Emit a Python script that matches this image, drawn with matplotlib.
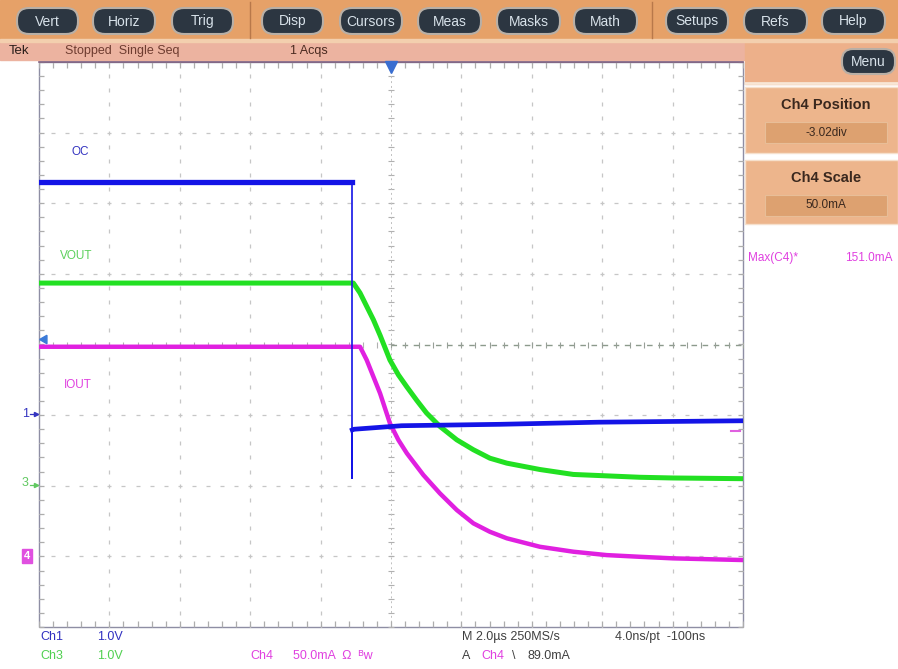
import matplotlib
matplotlib.use('Agg')
import matplotlib.pyplot as plt
from matplotlib.patches import FancyBboxPatch, Rectangle
import numpy as np

# ---------------- data (read from the screen) ----------------
# time in microseconds (2 us/div, trigger at centre)
oc_t = [-10.0, -1.10, -1.10, -1.10, -1.05, 0.30, 3.10, 5.90, 10.0]
oc_v = [3.30, 3.30, -0.89, -0.21, -0.20, -0.15, -0.13, -0.10, -0.08]   # V

vout_t = [-10.0, -1.07, -0.88, -0.69, -0.50, -0.31, -0.03, 0.21, 0.45, 0.73,
          1.01, 1.39, 1.87, 2.34, 2.81, 3.29, 4.23, 5.18, 6.13, 7.07, 8.01, 10.0]
vout_v = [2.87, 2.87, 2.73, 2.54, 2.35, 2.13, 1.78, 1.57, 1.40, 1.21,
          1.03, 0.84, 0.65, 0.51, 0.39, 0.32, 0.23, 0.16, 0.14, 0.12, 0.11, 0.10]  # V

iout_t = [-10.0, -0.88, -0.69, -0.50, -0.31, -0.03, 0.21, 0.45, 0.92, 1.39,
          1.87, 2.34, 2.81, 3.29, 4.23, 5.18, 6.13, 7.07, 8.01, 10.0]
iout_i = [149.4, 149.4, 140.0, 128.2, 116.4, 95.2, 83.4, 74.0, 58.6, 45.6,
          33.8, 24.4, 18.4, 13.8, 7.8, 4.3, 1.9, 0.7, -0.4, -1.6]          # mA

ch1_scale, ch1_pos = 1.0, -1.0      # V/div, div
ch3_scale, ch3_pos = 1.0, -2.0
ch4_scale, ch4_pos = 50.0, -3.02    # mA/div, div

menu_buttons = ["Vert", "Horiz", "Trig", "Disp", "Cursors", "Meas", "Masks",
                "Math", "Setups", "Refs", "Help"]
button_x = [(17, 78), (93, 155), (172, 233), (262, 323), (340, 402), (418, 481),
            (497, 560), (574, 637), (666, 728), (744, 807), (822, 885)]

# ---------------- figure ----------------
W, H = 898, 669
FONT = ['Liberation Sans', 'DejaVu Sans']
plt.rcParams['font.family'] = FONT

fig = plt.figure(figsize=(W / 100, H / 100), dpi=100)
fig.patch.set_facecolor('white')
ui = fig.add_axes([0, 0, 1, 1])
ui.set_xlim(0, W)
ui.set_ylim(H, 0)
ui.axis('off')

GL, GR, GT, GB = 39, 743, 62, 627
ax = fig.add_axes([GL / W, 1 - GB / H, (GR - GL) / W, (GB - GT) / H])
ax.set_facecolor('none')
ax.set_xlim(-10, 10)
ax.set_ylim(-4, 4)
ax.axis('off')

# ---- toolbar ----
ui.add_patch(Rectangle((0, 0), W, 40, color='#E6A168', zorder=0))
ui.add_patch(Rectangle((0, 39), W, 2.5, color='#F3CFAE', zorder=1))
ui.add_patch(Rectangle((0, 42), 745, 18, color='#ECB3A0', zorder=0))
ui.add_patch(Rectangle((745, 41), W - 745, 43, color='#EDB08A', zorder=0))
for sx in (250, 652):
    ui.plot([sx, sx], [2, 38], color='#B8784A', lw=1, zorder=1)
for lab, (x0, x1) in zip(menu_buttons, button_x):
    ui.add_patch(FancyBboxPatch((x0, 8), x1 - x0, 26,
                                boxstyle="round,pad=0,rounding_size=12",
                                fc='#2C3641', ec='#B8AFA6', lw=1.5, zorder=2))
    ui.text((x0 + x1) / 2, 21.5, lab, color='#D8E2EA', fontsize=10,
            ha='center', va='center', zorder=3)
# Menu button
ui.add_patch(FancyBboxPatch((842, 49), 53, 25,
                            boxstyle="round,pad=0,rounding_size=11",
                            fc='#2C3641', ec='#B8AFA6', lw=1.5, zorder=2))
ui.text(868, 62, "Menu", color='#D8E2EA', fontsize=10, ha='center',
        va='center', zorder=3)

# status line
ui.text(9, 51, "Tek", color='#2A1E1A', fontsize=9.5, ha='left', va='center')
ui.text(65, 51, "Stopped  Single Seq", color='#6E3C30', fontsize=9,
        ha='left', va='center')
ui.text(290, 51, "1 Acqs", color='#4A2A20', fontsize=9, ha='left', va='center')

# right panel boxes
ui.plot([745, W], [83, 83], color='#F8E6D6', lw=2, zorder=1)
for (y0, y1), title, val in (((87, 153), "Ch4 Position", "-3.02div"),
                             ((160, 224), "Ch4 Scale", "50.0mA")):
    ui.add_patch(Rectangle((745, y0), W - 745, y1 - y0, fc='#EDB58C',
                           ec='#F6E0CC', lw=1, zorder=1))
    ui.add_patch(Rectangle((765, y0 + 35), 122, 21, fc='#DDA170',
                           ec='#E8BE98', lw=0.8, zorder=2))
    ui.text(826, y0 + 18, title, color='#3A281E', fontsize=10.5,
            fontweight='bold', ha='center', va='center', zorder=3)
    ui.text(826, y0 + 45.5, val, color='#3A281E', fontsize=8.5,
            ha='center', va='center', zorder=3)

ui.text(748, 258, "Max(C4)*", color='#E040E0', fontsize=8.5, ha='left', va='center')
ui.text(845, 258, "151.0mA", color='#E040E0', fontsize=8.5, ha='left', va='center',
        clip_on=True)

# ---- graticule ----
gcol = '#C6C6C6'
minor_x = np.arange(-10, 10.001, 0.4)
minor_y = np.arange(-4, 4.001, 0.2)
for gx in np.arange(-8, 9, 2):
    if gx == 0:
        continue
    ax.plot(np.full_like(minor_y, gx), minor_y, ls='none', marker='|',
            ms=2.5, mew=0.9, color=gcol)
for gy in np.arange(-3, 4, 1):
    if gy == 0:
        continue
    ax.plot(minor_x, np.full_like(minor_x, gy), ls='none', marker='_',
            ms=2.5, mew=0.9, color=gcol)
# centre lines with ticks
ax.plot(np.zeros_like(minor_y), minor_y, ls='none', marker='_', ms=4,
        mew=0.8, color='#B0B0B0')
ax.plot([0, 0], [-4, 4], ls=(0, (2, 3)), lw=0.7, color='#C0C0C0')
ax.plot(minor_x[minor_x < 0], np.zeros_like(minor_x[minor_x < 0]), ls='none',
        marker='|', ms=4, mew=0.8, color='#B0B0B0')
ax.plot([0, 10], [0, 0], ls=(0, (4, 4)), lw=1.0, color='#8C9A8C')
ax.plot(minor_x[minor_x > 0], np.zeros_like(minor_x[minor_x > 0]), ls='none',
        marker='|', ms=4, mew=0.8, color='#98A098')
# edge ticks
ax.plot(minor_x, np.full_like(minor_x, 3.96), ls='none', marker='|', ms=4,
        mew=0.9, color='#ADADAD')
ax.plot(minor_x, np.full_like(minor_x, -3.96), ls='none', marker='|', ms=4,
        mew=0.9, color='#ADADAD')
ax.plot(np.full_like(minor_y, -9.93), minor_y, ls='none', marker='_', ms=4,
        mew=0.9, color='#ADADAD')
ax.plot(np.full_like(minor_y, 9.93), minor_y, ls='none', marker='_', ms=4,
        mew=0.9, color='#ADADAD')
ax.add_patch(Rectangle((-10, -4), 20, 8, fill=False, ec='#8E8EA4', lw=1.0,
                       clip_on=False))
ax.plot([-10, 10], [4, 4], color='#806080', lw=1.2, clip_on=False)

# ---- traces ----
def div(vals, scale, pos):
    return [v / scale + pos for v in vals]

oc_d = div(oc_v, ch1_scale, ch1_pos)
vout_d = div(vout_v, ch3_scale, ch3_pos)
iout_d = div(iout_i, ch4_scale, ch4_pos)

blue, green, magenta = '#1414E6', '#22E022', '#E020E0'
ax.plot(vout_t, vout_d, color=green, lw=3.6, solid_joinstyle='round', zorder=5)
ax.plot(iout_t, iout_d, color=magenta, lw=3.2, solid_joinstyle='round', zorder=6)
ax.plot(oc_t[:2], oc_d[:2], color=blue, lw=3.8, zorder=7)
ax.plot(oc_t[1:4], oc_d[1:4], color=blue, lw=1.2, zorder=7)
ax.plot(oc_t[3:], oc_d[3:], color=blue, lw=3.4, zorder=7)

# trigger markers
ax.plot([0], [3.93], marker='v', ms=8, color='#3A6ED0', clip_on=False, zorder=8)
ax.plot([-9.85], [0.08], marker=(3, 0, -30), ms=7, color='#3A7AD8',
        clip_on=False, zorder=8)

# trace labels
ui.text(72, 152, "OC", color='#3434C0', fontsize=8.5, ha='left', va='center')
ui.text(60, 256, "VOUT", color='#5CD05C', fontsize=8.5, ha='left', va='center')
ui.text(64, 385, "IOUT", color='#E040E0', fontsize=8.5, ha='left', va='center')

# channel ground markers
ui.text(22, 414, "1", color='#3434C0', fontsize=9, ha='left', va='center')
ui.plot([30, 38], [414, 414], color='#3434C0', lw=0.9)
ui.plot([36], [414], marker='>', ms=3, color='#3434C0')
ui.text(22, 483, "3", color='#60C860', fontsize=9, ha='left', va='center')
ui.plot([30, 38], [485, 485], color='#60C860', lw=0.9)
ui.plot([36], [485], marker='>', ms=3, color='#60C860')
ui.text(27, 556, "4", color='white', fontsize=8, ha='center', va='center',
        fontweight='bold',
        bbox=dict(boxstyle='square,pad=0.15', fc='#E050E0', ec='#E050E0'))
ui.plot([731, 740], [431, 431], color='#E060E0', lw=1.5)

# ---- bottom readouts ----
c1, c3, c4, dk = '#3030C0', '#50D050', '#E040E0', '#404040'
fs = 9
ui.text(40, 637, "Ch1", color=c1, fontsize=fs, va='center')
ui.text(97, 637, "1.0V", color=c1, fontsize=fs, va='center')
ui.text(40, 656, "Ch3", color=c3, fontsize=fs, va='center')
ui.text(97, 656, "1.0V", color=c3, fontsize=fs, va='center')
ui.text(250, 656, "Ch4", color=c4, fontsize=fs, va='center')
ui.text(293, 656, "50.0mA  \u03a9  \u1d2ew", color=c4, fontsize=fs, va='center')
ui.text(462, 637, "M 2.0\u00b5s 250MS/s", color=dk, fontsize=fs, va='center')
ui.text(615, 637, "4.0ns/pt  -100ns", color=dk, fontsize=fs, va='center')
ui.text(462, 656, "A", color=dk, fontsize=fs, va='center')
ui.text(481, 656, "Ch4", color=c4, fontsize=fs, va='center')
ui.text(512, 656, "\\", color=dk, fontsize=fs, va='center')
ui.text(527, 656, "89.0mA", color=dk, fontsize=fs, va='center')

fig.savefig('out.png', dpi=100)
